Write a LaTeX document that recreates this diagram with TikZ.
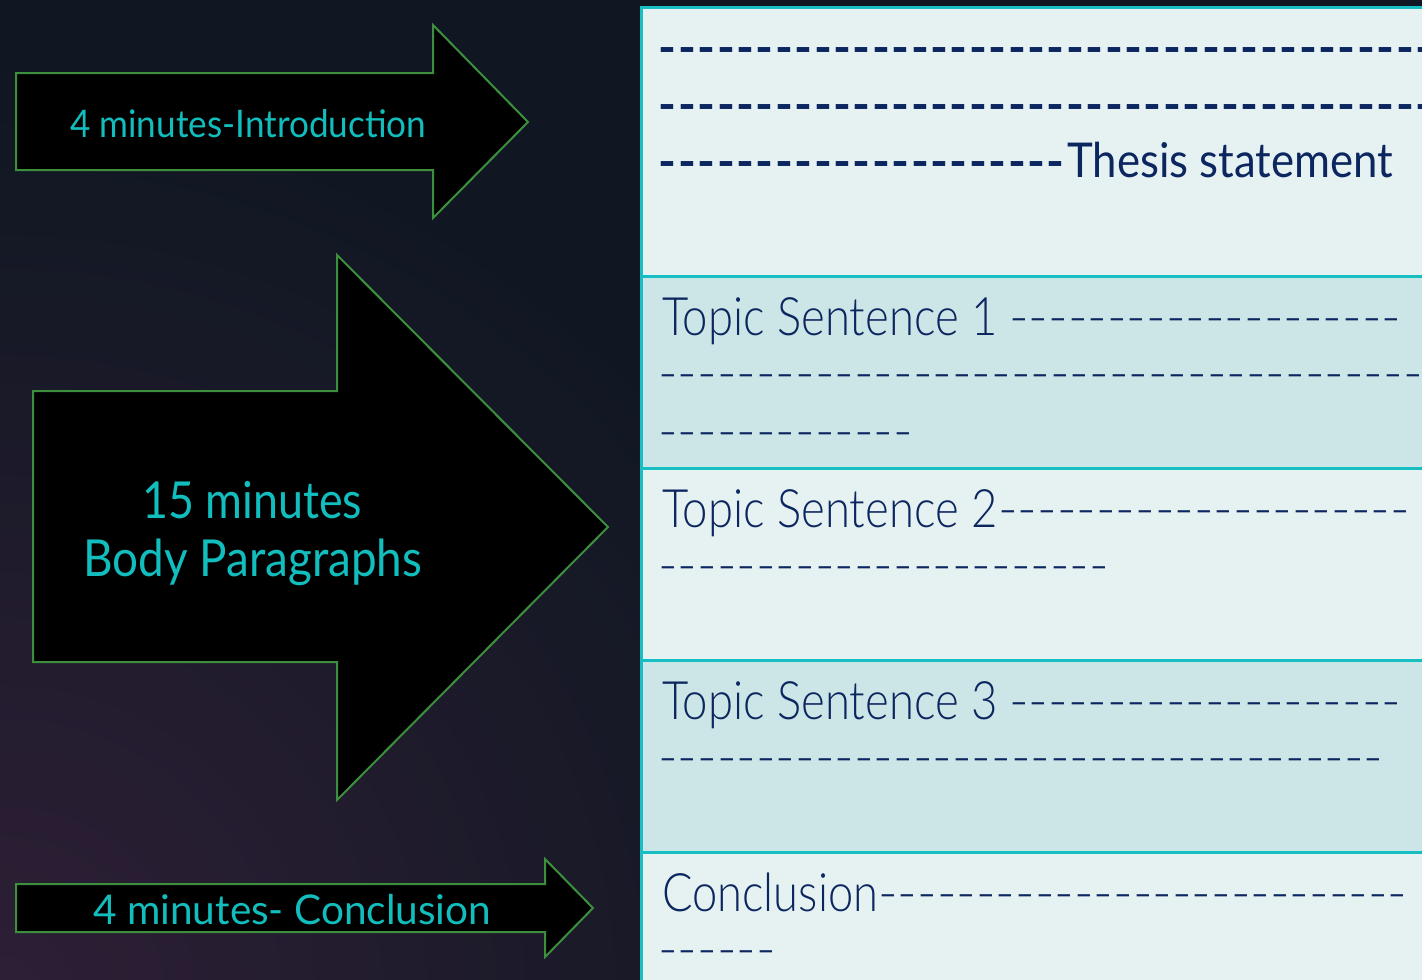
\documentclass[tikz,border=0pt]{standalone}
\usepackage{fontspec}
\usepackage{graphicx}
\IfFontExistsTF{Lato Light}{\setmainfont{Lato Light}}{\setmainfont{Lato}}
\newfontfamily\latoreg{Lato}
\definecolor{bgnavy}{HTML}{101722}
\definecolor{bgpurple}{HTML}{2E1F36}
\definecolor{rowA}{HTML}{E6F2F2}
\definecolor{rowB}{HTML}{CCE6E7}
\definecolor{rule}{HTML}{18BFC2}
\definecolor{ink}{HTML}{0C2660}
\definecolor{tealtxt}{HTML}{12BDBD}
\definecolor{arrowline}{HTML}{3C8F3C}
\newcount\dashcnt
\newcommand\dashrun[2]{\dashcnt=0\relax\loop\ifnum\dashcnt<#1\relax\hbox to #2pt{\hss-\hss}\advance\dashcnt by 1\relax\repeat}
\newcommand\fitw[2]{\resizebox{#1pt}{\height}{#2}}
\tikzset{
  cell/.style={draw=rule, line width=3pt, rectangle, minimum width=820pt, anchor=north west, inner sep=0pt},
  bigarrow/.style={draw=arrowline, line width=2pt, fill=black, line join=miter},
  rowtxt/.style={anchor=base west, inner sep=0pt, text=ink, font=\fontsize{53}{57}\selectfont},
  thesisdash/.style={anchor=base west, inner sep=0pt, text=ink, font=\latoreg\bfseries\fontsize{48}{57}\selectfont},
  lbl/.style={anchor=base west, inner sep=0pt, text=tealtxt}
}
\begin{document}
\begin{tikzpicture}[x=1pt,y=-1pt]
\useasboundingbox (0,0) rectangle (1422,980);
\begin{scope}
\clip (0,0) rectangle (1422,980);
\fill[bgnavy] (0,0) rectangle (1422,980);
\shade[inner color=bgpurple, outer color=bgnavy] (0,1000) circle (900);
% table rows
\node[cell, fill=rowA, minimum height=269pt] (r1) at (640,6) {};
\node[cell, fill=rowB, minimum height=192pt] (r2) at (640,275) {};
\node[cell, fill=rowA, minimum height=192pt] (r3) at (640,467) {};
\node[cell, fill=rowB, minimum height=192pt] (r4) at (640,659) {};
\node[cell, fill=rowA, minimum height=200pt] (r5) at (640,851) {};
% row 1
\node[thesisdash] (t1) at (658,64) {\dashrun{40}{19.4}};
\node[thesisdash] (t2) at (658,121) {\dashrun{40}{19.4}};
\node[thesisdash] (t3d) at (658,178) {\dashrun{21}{19.4}};
\node[rowtxt, font=\latoreg\fontsize{48}{57}\selectfont] (t3) at (1067,177) {\fitw{326}{Thesis statement}};
% row 2
\node[rowtxt] (s1) at (662,335) {\fitw{335}{Topic Sentence 1}};
\node[rowtxt] (s1d) at (1009,335) {\dashrun{20}{19.6}};
\node[rowtxt] (s1b) at (658,391) {\dashrun{40}{19.6}};
\node[rowtxt] (s1c) at (658,449) {\dashrun{13}{19.6}};
% row 3
\node[rowtxt] (s2) at (662,527) {\fitw{335}{Topic Sentence 2}};
\node[rowtxt] (s2d) at (998,527) {\dashrun{21}{19.6}};
\node[rowtxt] (s2b) at (658,583) {\dashrun{23}{19.6}};
% row 4
\node[rowtxt] (s3) at (662,719) {\fitw{335}{Topic Sentence 3}};
\node[rowtxt] (s3d) at (1009,719) {\dashrun{20}{19.6}};
\node[rowtxt] (s3b) at (658,775) {\dashrun{37}{19.6}};
% row 5
\node[rowtxt] (c1) at (662,911) {\fitw{216}{Conclusion}};
\node[rowtxt] (c1d) at (878,911) {\dashrun{27}{19.6}};
\node[rowtxt] (c1b) at (658,967) {\dashrun{6}{19.6}};
% arrows
\draw[bigarrow] (16,73) -- (433,73) -- (433,25) -- (528,122) -- (433,218) -- (433,170) -- (16,170) -- cycle;
\draw[bigarrow] (33,391) -- (337,391) -- (337,255) -- (608,527) -- (337,800) -- (337,662) -- (33,662) -- cycle;
\draw[bigarrow] (16,884) -- (545,884) -- (545,859) -- (593,908) -- (545,957) -- (545,932) -- (16,932) -- cycle;
% labels
\node[lbl, font=\latoreg\fontsize{38}{44}\selectfont] (la) at (70,137) {\fitw{356}{4 minutes-Introduction}};
\node[lbl, font=\latoreg\fontsize{51}{58}\selectfont] (lb1) at (142,518) {\fitw{220}{15 minutes}};
\node[lbl, font=\latoreg\fontsize{51}{58}\selectfont] (lb2) at (83,576) {\fitw{339}{Body Paragraphs}};
\node[lbl, font=\latoreg\fontsize{41}{48}\selectfont] (lc) at (93,924) {\fitw{398}{4 minutes- Conclusion}};
\end{scope}
\end{tikzpicture}
\end{document}
